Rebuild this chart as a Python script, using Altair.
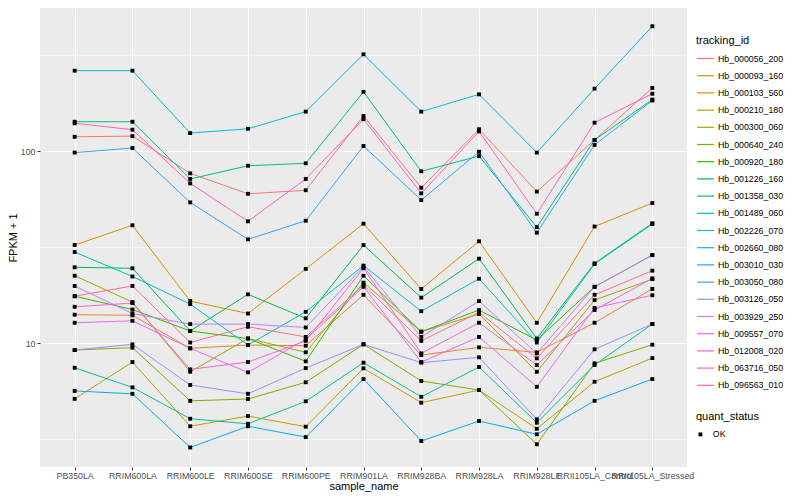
import altair as alt
import pandas as pd

samples = ["PB350LA", "RRIM600LA", "RRIM600LE", "RRIM600SE", "RRIM600PE",
           "RRIM901LA", "RRIM928BA", "RRIM928LA", "RRIM928LE",
           "RRII105LA_Control", "RRII105LA_Stressed"]

tracking_ids = ["Hb_000056_200", "Hb_000093_160", "Hb_000103_560", "Hb_000210_180",
                "Hb_000300_060", "Hb_000640_240", "Hb_000920_180", "Hb_001226_160",
                "Hb_001358_030", "Hb_001489_060", "Hb_002226_070", "Hb_002660_080",
                "Hb_003010_030", "Hb_003050_080", "Hb_003126_050", "Hb_003929_250",
                "Hb_009557_070", "Hb_012008_020", "Hb_063716_050", "Hb_096563_010"]

hb_000056_200 = [119, 120, 76.8, 60.1, 62.7, 152.8, 64.6, 130.3, 61.7, 114.6, 214]
hb_000093_160 = [14.1, 14.0, 9.42, 9.80, 9.72, 17.9, 8.69, 9.53, 8.98, 12.8, 19.2]
hb_000103_560 = [32.5, 41.2, 16.6, 14.3, 24.4, 42.0, 19.2, 34.0, 12.8, 40.6, 53.8]
hb_000210_180 = [5.14, 7.99, 3.70, 4.18, 3.68, 7.41, 4.91, 5.71, 3.59, 6.31, 8.38]
hb_000300_060 = [22.5, 16.4, 7.11, 10.6, 8.98, 20.7, 11.5, 14.2, 7.11, 16.8, 21.6]
hb_000640_240 = [9.23, 9.49, 5.02, 5.13, 6.27, 9.88, 6.37, 5.71, 2.98, 7.87, 9.84]
hb_000920_180 = [17.6, 15.0, 11.6, 10.6, 8.06, 22.5, 11.5, 14.9, 10.4, 19.7, 28.8]
hb_001226_160 = [24.9, 24.6, 11.6, 18.0, 13.5, 32.5, 17.3, 27.6, 10.6, 26.1, 42.2]
hb_001358_030 = [142.6, 142.6, 71.8, 84.1, 86.6, 204, 78.7, 94.5, 40.3, 114.6, 186]
hb_001489_060 = [7.46, 5.90, 4.05, 3.81, 4.99, 7.93, 5.27, 7.53, 3.86, 7.71, 12.6]
hb_002226_070 = [29.9, 22.3, 16.0, 9.80, 14.6, 25.4, 14.7, 21.7, 10.1, 25.9, 41.8]
hb_002660_080 = [263, 263, 124.5, 131, 161, 320, 161, 198, 98.5, 212, 448]
hb_003010_030 = [5.65, 5.46, 2.87, 3.70, 3.25, 6.52, 3.10, 3.94, 3.36, 5.02, 6.52]
hb_003050_080 = [98.5, 104, 54.2, 34.8, 43.5, 106.6, 55.7, 99.5, 37.7, 108, 184]
hb_003126_050 = [9.23, 9.88, 6.07, 5.46, 7.43, 9.88, 7.93, 8.46, 4.02, 9.31, 12.6]
hb_003929_250 = [19.9, 14.3, 12.6, 12.6, 12.1, 25.1, 10.8, 16.6, 8.87, 19.7, 28.8]
hb_009557_070 = [12.8, 13.1, 9.42, 7.06, 10.5, 19.7, 7.99, 10.8, 5.94, 15.3, 17.8]
hb_012008_020 = [15.5, 16.2, 7.32, 7.99, 10.3, 24.6, 8.87, 12.8, 7.71, 14.9, 21.8]
hb_063716_050 = [140, 129.6, 68.1, 43.2, 71.8, 147, 60.4, 127, 47.3, 141, 199.5]
hb_096563_010 = [17.6, 19.9, 10.1, 12.2, 10.8, 20.1, 10.3, 14.5, 8.35, 17.9, 23.9]

palette = ["#F8766D", "#EA8331", "#D89000", "#C09B00", "#A3A500", "#7CAE00",
           "#39B600", "#00BB4E", "#00BF7D", "#00C1A3", "#00BFC4", "#00BAE0",
           "#00B0F6", "#35A2FF", "#9590FF", "#C77CFF", "#E76BF3", "#FA62DB",
           "#FF62BC", "#FF6C91"]

major_breaks = [10, 100]
minor_breaks = [3.162, 31.62, 316.2]
y_domain = [2.27, 557.7]

series = [hb_000056_200, hb_000093_160, hb_000103_560, hb_000210_180, hb_000300_060,
          hb_000640_240, hb_000920_180, hb_001226_160, hb_001358_030, hb_001489_060,
          hb_002226_070, hb_002660_080, hb_003010_030, hb_003050_080, hb_003126_050,
          hb_003929_250, hb_009557_070, hb_012008_020, hb_063716_050, hb_096563_010]

rows = []
for tid, vals in zip(tracking_ids, series):
    for i, (s, v) in enumerate(zip(samples, vals)):
        rows.append({"tracking_id": tid, "sample_name": s, "fpkm1": v,
                     "quant_status": "OK", "idx": i})
df = pd.DataFrame(rows)
minor_df = pd.DataFrame({"fpkm1": minor_breaks})

FONT = "Liberation Sans"

x_enc = alt.X("sample_name:N", sort=samples,
              scale=alt.Scale(type="point", padding=0.6),
              axis=alt.Axis(title="sample_name", labelAngle=0, labelFontSize=8.8,
                            labelColor="#4D4D4D", tickColor="#333333", tickSize=3,
                            labelPadding=1, domain=False, grid=True,
                            gridColor="white", gridWidth=1.1, labelOverlap=False,
                            titleFontSize=11, titleFontWeight="normal",
                            titleColor="black", titlePadding=1))
y_enc = alt.Y("fpkm1:Q",
              scale=alt.Scale(type="log", domain=y_domain, nice=False),
              axis=alt.Axis(title="FPKM + 1", values=major_breaks, format="d",
                            labelFontSize=8.8, labelColor="#4D4D4D",
                            tickColor="#333333", tickSize=3, labelPadding=2,
                            domain=False, grid=True, gridColor="white",
                            gridWidth=1.1, titleFontSize=11,
                            titleFontWeight="normal", titleColor="black",
                            titlePadding=2))

minor = alt.Chart(minor_df).mark_rule(color="white", strokeWidth=0.55).encode(
    y=alt.Y("fpkm1:Q"))

lines = alt.Chart(df).mark_line(strokeWidth=1).encode(
    x=x_enc, y=y_enc,
    color=alt.Color("tracking_id:N",
                    scale=alt.Scale(domain=tracking_ids, range=palette),
                    legend=alt.Legend(title="tracking_id", orient="none",
                                      legendX=656, legendY=27,
                                      symbolType="stroke", symbolSize=289,
                                      symbolStrokeWidth=1.2, rowPadding=2.2,
                                      labelFontSize=8.8, labelColor="black",
                                      titleFontSize=11, titleFontWeight="normal",
                                      titleColor="black", titlePadding=3,
                                      labelOffset=3)),
    order=alt.Order("idx:Q"))

points = alt.Chart(df).mark_point(filled=True, shape="square", size=15,
                                  color="black", opacity=1).encode(
    x=x_enc, y=y_enc,
    shape=alt.Shape("quant_status:N",
                    scale=alt.Scale(domain=["OK"], range=["square"]),
                    legend=alt.Legend(title="quant_status", orient="none",
                                      legendX=656, legendY=403,
                                      symbolSize=15, symbolFillColor="black",
                                      symbolStrokeColor="black",
                                      labelFontSize=8.8, labelColor="black",
                                      titleFontSize=11, titleFontWeight="normal",
                                      titleColor="black", titlePadding=8,
                                      labelOffset=8)))

chart = alt.layer(minor, lines, points).properties(
    width=647, height=459,
    autosize=alt.AutoSizeParams(type="none"),
    padding={"left": 32, "top": 0, "right": 105, "bottom": 25},
).configure(
    font=FONT,
    view=alt.ViewConfig(fill="#EBEBEB", strokeWidth=0),
)

chart.save("out.html", embed_options={"renderer": "svg", "actions": False})
